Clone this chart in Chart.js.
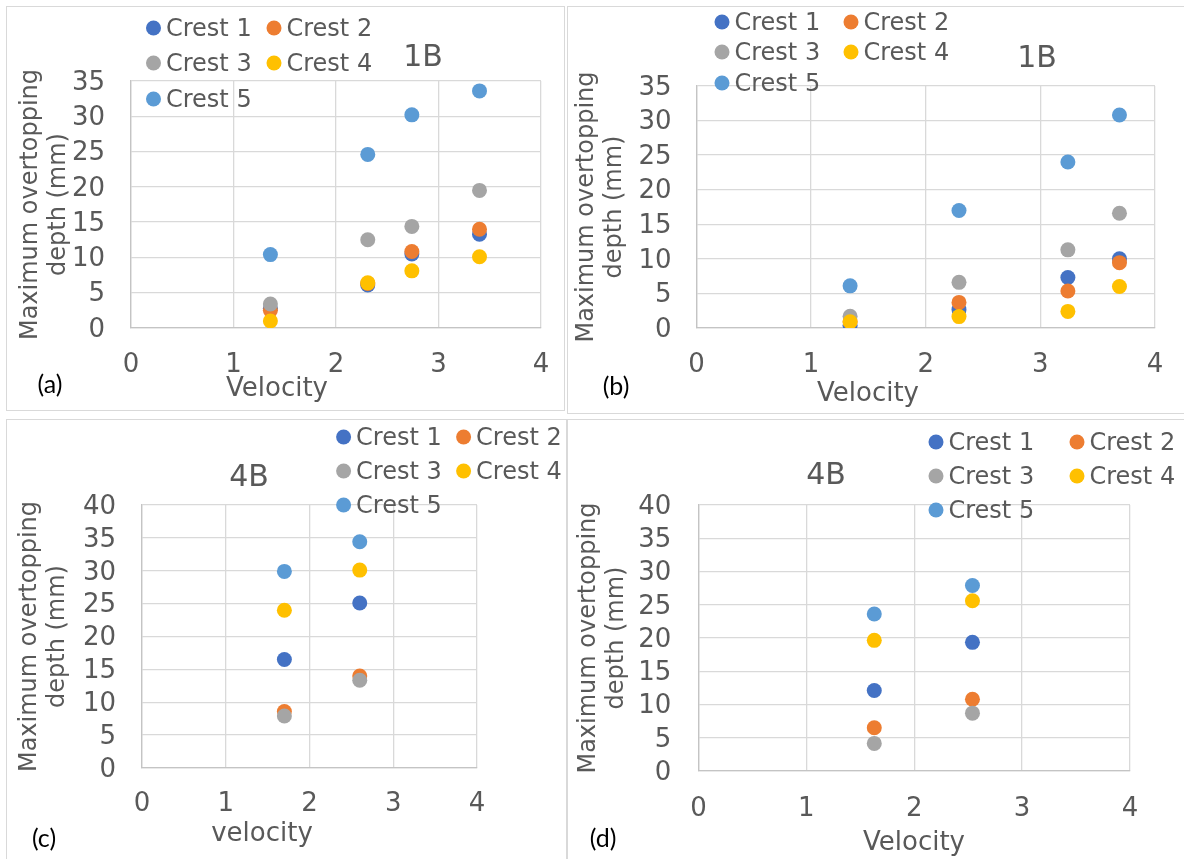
<!DOCTYPE html>
<html>
<head>
<meta charset="utf-8">
<title>Maximum overtopping depth vs velocity</title>
<script src="https://cdn.jsdelivr.net/npm/chart.js@4.4.1/dist/chart.umd.min.js"></script>
<style>
  html, body { margin: 0; padding: 0; background: #ffffff; }
  body { width: 1184px; height: 859px; position: relative; overflow: hidden; }
  .frame { position: absolute; box-sizing: border-box; border: 1.5px solid #d9d9d9; }
  canvas { position: absolute; }
</style>
</head>
<body>
<div class="frame" style="left:6px;top:6px;width:559px;height:405px;"></div>
<div class="frame" style="left:567px;top:6px;width:640px;height:408px;"></div>
<div class="frame" style="left:6px;top:419px;width:561px;height:460px;"></div>
<div class="frame" style="left:567px;top:419px;width:640px;height:460px;"></div>
<canvas id="chartA"></canvas>
<canvas id="chartB"></canvas>
<canvas id="chartC"></canvas>
<canvas id="chartD"></canvas>
<script>
// ---- Series names and colours ----
const crestNames = ['Crest 1', 'Crest 2', 'Crest 3', 'Crest 4', 'Crest 5'];
const crestColors = ['#4472C4', '#ED7D31', '#A5A5A5', '#FFC000', '#5B9BD5'];

// ---- (a) 1B ----
const velocityA = [1.36, 2.31, 2.74, 3.40];
const depthA1 = [2.8, 6.1, 10.5, 13.3];
const depthA2 = [2.5, 6.3, 10.85, 14.0];
const depthA3 = [3.4, 12.5, 14.4, 19.5];
const depthA4 = [1.0, 6.4, 8.1, 10.1];
const depthA5 = [10.4, 24.6, 30.2, 33.6];

// ---- (b) 1B ----
const velocityB = [1.34, 2.29, 3.24, 3.69];
const depthB1 = [0.4, 2.65, 7.3, 10.0];
const depthB2 = [0.9, 3.7, 5.35, 9.45];
const depthB3 = [1.7, 6.6, 11.3, 16.6];
const depthB4 = [0.9, 1.65, 2.4, 6.0];
const depthB5 = [6.1, 17.0, 24.0, 30.8];

// ---- (c) 4B ----
const velocityC = [1.70, 2.60];
const depthC1 = [16.5, 25.1];
const depthC2 = [8.6, 14.0];
const depthC3 = [7.9, 13.35];
const depthC4 = [24.0, 30.1];
const depthC5 = [29.9, 34.4];

// ---- (d) 4B ----
const velocityD = [1.63, 2.54];
const depthD1 = [12.1, 19.35];
const depthD2 = [6.5, 10.8];
const depthD3 = [4.15, 8.7];
const depthD4 = [19.65, 25.6];
const depthD5 = [23.6, 27.9];

// ---- Axis ticks ----
const xTicks = [0, 1, 2, 3, 4];
const yTicks35 = [0, 5, 10, 15, 20, 25, 30, 35];
const yTicks40 = [0, 5, 10, 15, 20, 25, 30, 35, 40];

// ---- Text ----
const yAxisTitle = ['Maximum overtopping', 'depth (mm)'];

const TEXT = '#595959';
const FONT = "'DejaVu Sans', Verdana, sans-serif";

// Panel layout in page pixels: canvas box, plot area and text anchors.
const panels = [
  {
    id: 'chartA', title: '1B', tag: '(a)', xTitle: 'Velocity',
    velocity: velocityA, depths: [depthA1, depthA2, depthA3, depthA4, depthA5], yTicks: yTicks35,
    box: { left: 6, top: 6, width: 558, height: 404 },
    plot: { left: 131, right: 541, top: 81, bottom: 328 },
    yTickGap: 26, xTickY: 365, yTitlePad: 11,
    titlePos: [423, 57], tagPos: [50, 383], xTitlePos: [277, 388],
    legendCols: [153.5, 274], legendRows: [28, 63, 99]
  },
  {
    id: 'chartB', title: '1B', tag: '(b)', xTitle: 'Velocity',
    velocity: velocityB, depths: [depthB1, depthB2, depthB3, depthB4, depthB5], yTicks: yTicks35,
    box: { left: 567, top: 6, width: 617, height: 408 },
    plot: { left: 696.5, right: 1155, top: 86, bottom: 328 },
    yTickGap: 25, xTickY: 365, yTitlePad: 6,
    titlePos: [1037, 58], tagPos: [616, 385], xTitlePos: [868, 393],
    legendCols: [722, 851], legendRows: [22, 52, 83]
  },
  {
    id: 'chartC', title: '4B', tag: '(c)', xTitle: 'velocity',
    velocity: velocityC, depths: [depthC1, depthC2, depthC3, depthC4, depthC5], yTicks: yTicks40,
    box: { left: 6, top: 419, width: 560, height: 440 },
    plot: { left: 142, right: 477, top: 505, bottom: 768 },
    yTickGap: 26, xTickY: 804, yTitlePad: 10,
    titlePos: [249, 477], tagPos: [44, 837], xTitlePos: [262, 833],
    legendCols: [343.6, 463.6], legendRows: [437, 471, 505]
  },
  {
    id: 'chartD', title: '4B', tag: '(d)', xTitle: 'Velocity',
    velocity: velocityD, depths: [depthD1, depthD2, depthD3, depthD4, depthD5], yTicks: yTicks40,
    box: { left: 567, top: 419, width: 617, height: 440 },
    plot: { left: 698.4, right: 1130, top: 505, bottom: 771 },
    yTickGap: 27, xTickY: 809, yTitlePad: 8,
    titlePos: [826, 475], tagPos: [603, 837], xTitlePos: [914, 842],
    legendCols: [936, 1077], legendRows: [442, 476, 510]
  }
];

// Chart title, panel letter, x-axis title and the two-column legend.
const panelText = {
  id: 'panelText',
  afterDraw(chart, args, opts) {
    const ctx = chart.ctx;
    const ox = opts.origin[0], oy = opts.origin[1] - 1.5;
    ctx.save();
    ctx.textBaseline = 'middle';

    ctx.fillStyle = TEXT;
    ctx.textAlign = 'center';
    ctx.font = '30px ' + FONT;
    ctx.fillText(opts.title, opts.titlePos[0] - ox, opts.titlePos[1] - oy);

    ctx.font = '26px ' + FONT;
    ctx.fillText(opts.xTitle, opts.xTitlePos[0] - ox, opts.xTitlePos[1] - oy);

    ctx.fillStyle = '#000000';
    ctx.font = "25px Lato, 'Open Sans', sans-serif";
    ctx.fillText(opts.tag, opts.tagPos[0] - ox, opts.tagPos[1] - oy);

    ctx.textAlign = 'left';
    ctx.font = '24px ' + FONT;
    chart.data.datasets.forEach((ds, i) => {
      const cx = opts.legendCols[i % 2] - ox;
      const cy = opts.legendRows[Math.floor(i / 2)] - opts.origin[1];
      ctx.fillStyle = ds.backgroundColor;
      ctx.beginPath();
      ctx.arc(cx, cy, 7.5, 0, Math.PI * 2);
      ctx.fill();
      ctx.fillStyle = TEXT;
      ctx.fillText(ds.label, cx + 12.5, cy + 1.5);
    });
    ctx.restore();
  }
};

panels.forEach(p => {
  const canvas = document.getElementById(p.id);
  canvas.style.left = p.box.left + 'px';
  canvas.style.top = p.box.top + 'px';
  canvas.style.width = p.box.width + 'px';
  canvas.style.height = p.box.height + 'px';
  canvas.width = p.box.width;
  canvas.height = p.box.height;

  const boxRight = p.box.left + p.box.width;
  const boxBottom = p.box.top + p.box.height;
  const tickLine = 26 * 1.2;

  const datasets = crestNames.map((name, i) => ({
    label: name,
    data: p.velocity.map((v, k) => ({ x: v, y: p.depths[i][k] })),
    backgroundColor: crestColors[i],
    borderColor: crestColors[i],
    pointRadius: 7.5,
    pointHoverRadius: 7.5,
    borderWidth: 0,
    showLine: false,
    order: crestNames.length - i
  }));

  new Chart(canvas, {
    type: 'scatter',
    data: { datasets },
    options: {
      responsive: false,
      animation: false,
      events: [],
      layout: {
        padding: {
          left: 0,
          right: boxRight - p.plot.right,
          top: p.plot.top - p.box.top,
          bottom: 0
        }
      },
      scales: {
        x: {
          type: 'linear',
          min: xTicks[0],
          max: xTicks[xTicks.length - 1],
          afterBuildTicks: s => { s.ticks = xTicks.map(v => ({ value: v })); },
          afterFit: s => {
            s.height = boxBottom - p.plot.bottom;
            s.paddingLeft = 0;
            s.paddingRight = 0;
          },
          grid: { color: '#d9d9d9', lineWidth: 1.3, drawTicks: false },
          border: { display: true, color: '#c4c4c4', width: 1.3 },
          ticks: {
            color: TEXT,
            font: { family: FONT, size: 26, lineHeight: 1.2 },
            padding: p.xTickY - p.plot.bottom - tickLine / 2,
            maxRotation: 0,
            autoSkip: false
          }
        },
        y: {
          type: 'linear',
          min: p.yTicks[0],
          max: p.yTicks[p.yTicks.length - 1],
          afterBuildTicks: s => { s.ticks = p.yTicks.map(v => ({ value: v })); },
          afterFit: s => {
            s.width = p.plot.left - p.box.left;
            s.paddingTop = 0;
            s.paddingBottom = 0;
          },
          grid: { color: '#d9d9d9', lineWidth: 1.3, drawTicks: false },
          border: { display: true, color: '#c4c4c4', width: 1.3 },
          ticks: {
            color: TEXT,
            font: { family: FONT, size: 26, lineHeight: 1.2 },
            padding: p.yTickGap,
            labelOffset: 2,
            autoSkip: false
          },
          title: {
            display: true,
            text: yAxisTitle,
            color: TEXT,
            font: { family: FONT, size: 24, lineHeight: 28 / 24 },
            padding: p.yTitlePad
          }
        }
      },
      plugins: {
        legend: { display: false },
        tooltip: { enabled: false },
        title: { display: false },
        panelText: {
          origin: [p.box.left, p.box.top],
          title: p.title, tag: p.tag, xTitle: p.xTitle,
          titlePos: p.titlePos, tagPos: p.tagPos, xTitlePos: p.xTitlePos,
          legendCols: p.legendCols, legendRows: p.legendRows
        }
      }
    },
    plugins: [panelText]
  });
});
</script>
</body>
</html>
